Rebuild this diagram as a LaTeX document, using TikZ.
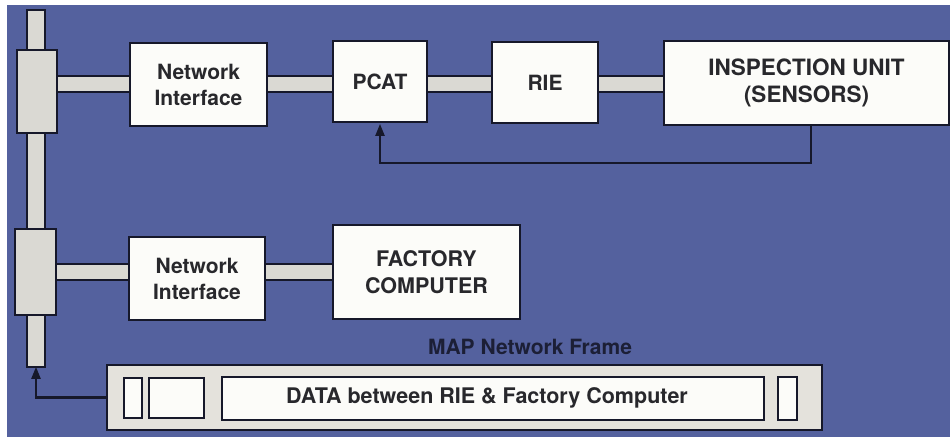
\documentclass[tikz,border=0pt]{standalone}
\usepackage{fontspec}
\setmainfont{TeX Gyre Heros}
\usetikzlibrary{arrows.meta,backgrounds}
\definecolor{bg}{RGB}{84,97,158}
\definecolor{ink}{RGB}{22,24,42}
\definecolor{barc}{RGB}{218,217,211}
\definecolor{framec}{RGB}{228,226,220}
\definecolor{boxc}{RGB}{252,252,249}
\definecolor{txt}{RGB}{40,40,44}
\begin{document}
\begin{tikzpicture}[x=1pt,y=-1pt,
  box/.style={draw=ink, line width=1.8pt, fill=boxc, inner sep=0pt, align=center,
    font=\fontsize{21}{26}\selectfont\bfseries, text=txt},
  tap/.style={draw=ink, line width=1.6pt, fill=barc, inner sep=0pt},
  small/.style={draw=ink, line width=1.6pt, fill=boxc, inner sep=0pt},
  barline/.style={draw=ink, line width=1.6pt, double=barc, double distance=14pt},
  fb/.style={draw=ink, line width=2.2pt, -{Triangle[length=12pt,width=9pt]}, shorten >=1pt},
]
\useasboundingbox (0,0) rectangle (950,439);
% nodes
\node[tap, minimum width=18pt, minimum height=357pt] (bus) at (36,188.5) {};
\node[tap, minimum width=40pt, minimum height=83pt] (tap1) at (37,91.5) {};
\node[tap, minimum width=41pt, minimum height=86pt] (tap2) at (35.5,272) {};
\node[box, minimum width=137pt, minimum height=83pt] (ni1) at (198.5,84.5) {Network\\Interface};
\node[box, minimum width=94pt, minimum height=81pt] (pcat) at (380,81.5) {PCAT};
\node[box, minimum width=106pt, minimum height=81pt] (rie) at (545,82.5) {RIE};
\node[box, font=\fontsize{22.5}{27}\selectfont\bfseries, minimum width=285pt, minimum height=84pt] (insp) at (806.5,83) {INSPECTION UNIT\\(SENSORS)};
\node[box, minimum width=136pt, minimum height=83pt] (ni2) at (197,278.5) {Network\\Interface};
\node[box, font=\fontsize{21.5}{27}\selectfont\bfseries, minimum width=187pt, minimum height=94pt] (fc) at (426.5,272) {FACTORY\\COMPUTER};
\node[font=\fontsize{21}{24}\selectfont\bfseries, text=ink!90!bg] (maplbl) at (530,347) {MAP Network Frame};
\node[tap, fill=framec, minimum width=715pt, minimum height=65pt] (frame) at (464.5,397.5) {};
\node[small, minimum width=18pt, minimum height=40pt] (s1) at (133,398) {};
\node[small, minimum width=55pt, minimum height=40pt] (s2) at (176.5,398) {};
\node[small, minimum width=542pt, minimum height=43pt] (data) at (493,398.5) {};
\node[font=\fontsize{21.5}{24}\selectfont\bfseries, text=txt, inner sep=0pt] (datatxt) at (487,397.5) {DATA between RIE \& Factory Computer};
\node[small, minimum width=19pt, minimum height=43pt] (s3) at (787.5,398.5) {};
% background and bars
\begin{scope}[on background layer]
  \fill[white] (0,0) rectangle (950,439);
  \fill[bg] (7,5) rectangle (950,437);
  \coordinate (r1) at (0,84);
  \coordinate (r2) at (0,272);
  \draw[barline] (tap1.east |- r1) -- (ni1.west |- r1);
  \draw[barline] (ni1.east |- r1) -- (pcat.west |- r1);
  \draw[barline] (pcat.east |- r1) -- (rie.west |- r1);
  \draw[barline] (rie.east |- r1) -- (insp.west |- r1);
  \draw[barline] (tap2.east |- r2) -- (ni2.west |- r2);
  \draw[barline] (ni2.east |- r2) -- (fc.west |- r2);
\end{scope}
% feedback arrows
\coordinate (fbc) at (811,163);
\draw[fb] (fbc |- insp.south) -- (fbc) -| (pcat.south);
\draw[fb, shorten >=-1pt] (frame.west) -| (bus.south);
\end{tikzpicture}
\end{document}
